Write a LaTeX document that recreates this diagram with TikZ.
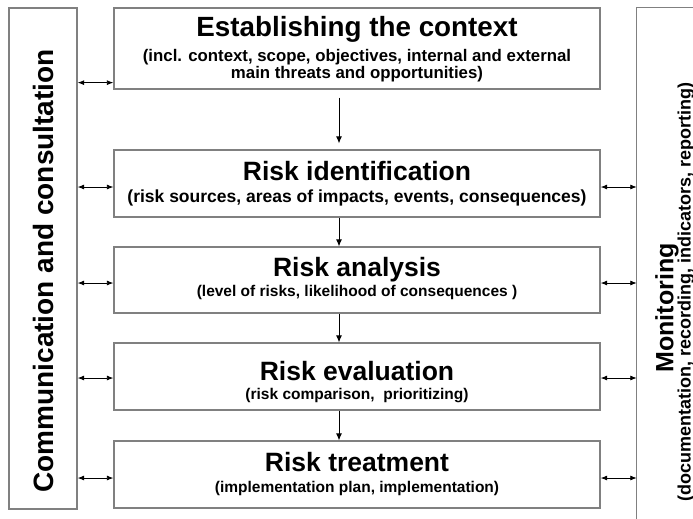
\documentclass[tikz,border=0pt]{standalone}
\usepackage{fontspec}
\setmainfont{Liberation Sans}
\usetikzlibrary{arrows.meta,calc}
\definecolor{boxgray}{RGB}{128,128,128}
\begin{document}
\begin{tikzpicture}[x=1pt,y=-1pt,
  box/.style={draw=boxgray, line width=1.3pt, minimum width=486pt, inner sep=0pt, rectangle},
  ttl/.style={font=\bfseries\fontsize{26.5}{30}\selectfont, inner sep=0pt, anchor=base},
  sub/.style={font=\bfseries\fontsize{15.5}{17}\selectfont, inner sep=0pt, anchor=base},
  bigsub/.style={sub, font=\bfseries\fontsize{16.8}{17}\selectfont},
  dbl/.style={{Latex[length=6.5pt,width=5pt]}-{Latex[length=6.5pt,width=5pt]}, line width=0.8pt},
  down/.style={-{Latex[length=7pt,width=6pt]}, line width=0.8pt}]
\path[use as bounding box] (0,0) rectangle (693,519);
% boxes
\node[box, minimum height=81pt] (ctx) at (357,48.5) {};
\node[box, minimum height=67pt] (ident) at (357,183.5) {};
\node[box, minimum height=66pt] (anal) at (357,280) {};
\node[box, minimum height=67pt] (eval) at (357,376.5) {};
\node[box, minimum height=67pt] (treat) at (357,474.5) {};
\node[draw=boxgray, line width=1.3pt, minimum width=68pt, minimum height=501pt, inner sep=0pt] (comm) at (43,258.5) {};
\node[minimum width=58pt, minimum height=513pt, inner sep=0pt] (mon) at (666,264) {};
\draw[boxgray, line width=1.3pt] (mon.south west) -- (mon.north west) -- (mon.north east);
% texts
\node[ttl, font=\bfseries\fontsize{27.8}{30}\selectfont] (ctxT) at ($(ctx.north)+(0,29.5)$) {Establishing the context};
\node[bigsub] (ctxS1) at ($(ctx.north)+(0,54)$) {(incl. context, scope, objectives, internal and external};
\node[bigsub] (ctxS2) at ($(ctx.north)+(0,71)$) {main threats and opportunities)};
\node[ttl] (identT) at ($(ident.north)+(0,31)$) {Risk identification};
\node[bigsub, font=\bfseries\fontsize{17.5}{17}\selectfont] (identS) at ($(ident.north)+(0,53)$) {(risk sources, areas of impacts, events, consequences)};
\node[ttl] (analT) at ($(anal.north)+(0,30)$) {Risk analysis};
\node[sub] (analS) at ($(anal.north)+(0,50)$) {(level of risks, likelihood of consequences )};
\node[ttl] (evalT) at ($(eval.north)+(0,38)$) {Risk evaluation};
\node[sub] (evalS) at ($(eval.north)+(0,57)$) {(risk comparison,\ \ prioritizing)};
\node[ttl] (treatT) at ($(treat.north)+(0,31)$) {Risk treatment};
\node[sub] (treatS) at ($(treat.north)+(0,52)$) {(implementation plan, implementation)};
\node[rotate=90, font=\bfseries\fontsize{28}{30}\selectfont, inner sep=0pt] (commT) at (43,271) {Communication and consultation};
\node[rotate=90, font=\bfseries\fontsize{25}{28}\selectfont, inner sep=0pt] (monT) at (667,308) {Monitoring};
\node[rotate=90, font=\bfseries\fontsize{18}{20}\selectfont, inner sep=0pt] (monS) at (686,292) {(documentation, recording, indicators, reporting)};
% arrow levels
\coordinate (a1) at ($(ctx.south west)+(0,-7)$);
\coordinate (a2) at ($(ident.west)+(0,3.5)$);
\coordinate (a3) at ($(anal.west)+(0,3)$);
\coordinate (a4) at ($(eval.west)+(0,1.5)$);
\coordinate (a5) at ($(treat.west)+(0,3.5)$);
\coordinate (b2) at ($(ident.east)+(0,3.5)$);
\coordinate (b3) at ($(anal.east)+(0,3)$);
\coordinate (b4) at ($(eval.east)+(0,1.5)$);
\coordinate (b5) at ($(treat.east)+(0,3.5)$);
\coordinate (vx) at (339,0);
% connectors
\draw[dbl] (comm.east |- a1) -- (a1);
\draw[dbl] (comm.east |- a2) -- (a2);
\draw[dbl] (comm.east |- a3) -- (a3);
\draw[dbl] (comm.east |- a4) -- (a4);
\draw[dbl] (comm.east |- a5) -- (a5);
\draw[dbl] (b2) -- (mon.west |- b2);
\draw[dbl] (b3) -- (mon.west |- b3);
\draw[dbl] (b4) -- (mon.west |- b4);
\draw[dbl] (b5) -- (mon.west |- b5);
\draw[down, shorten <=8pt, shorten >=6pt] (ctx.south -| vx) -- (ident.north -| vx);
\draw[down] (ident.south -| vx) -- (anal.north -| vx);
\draw[down] (anal.south -| vx) -- (eval.north -| vx);
\draw[down] (eval.south -| vx) -- (treat.north -| vx);
\end{tikzpicture}
\end{document}
